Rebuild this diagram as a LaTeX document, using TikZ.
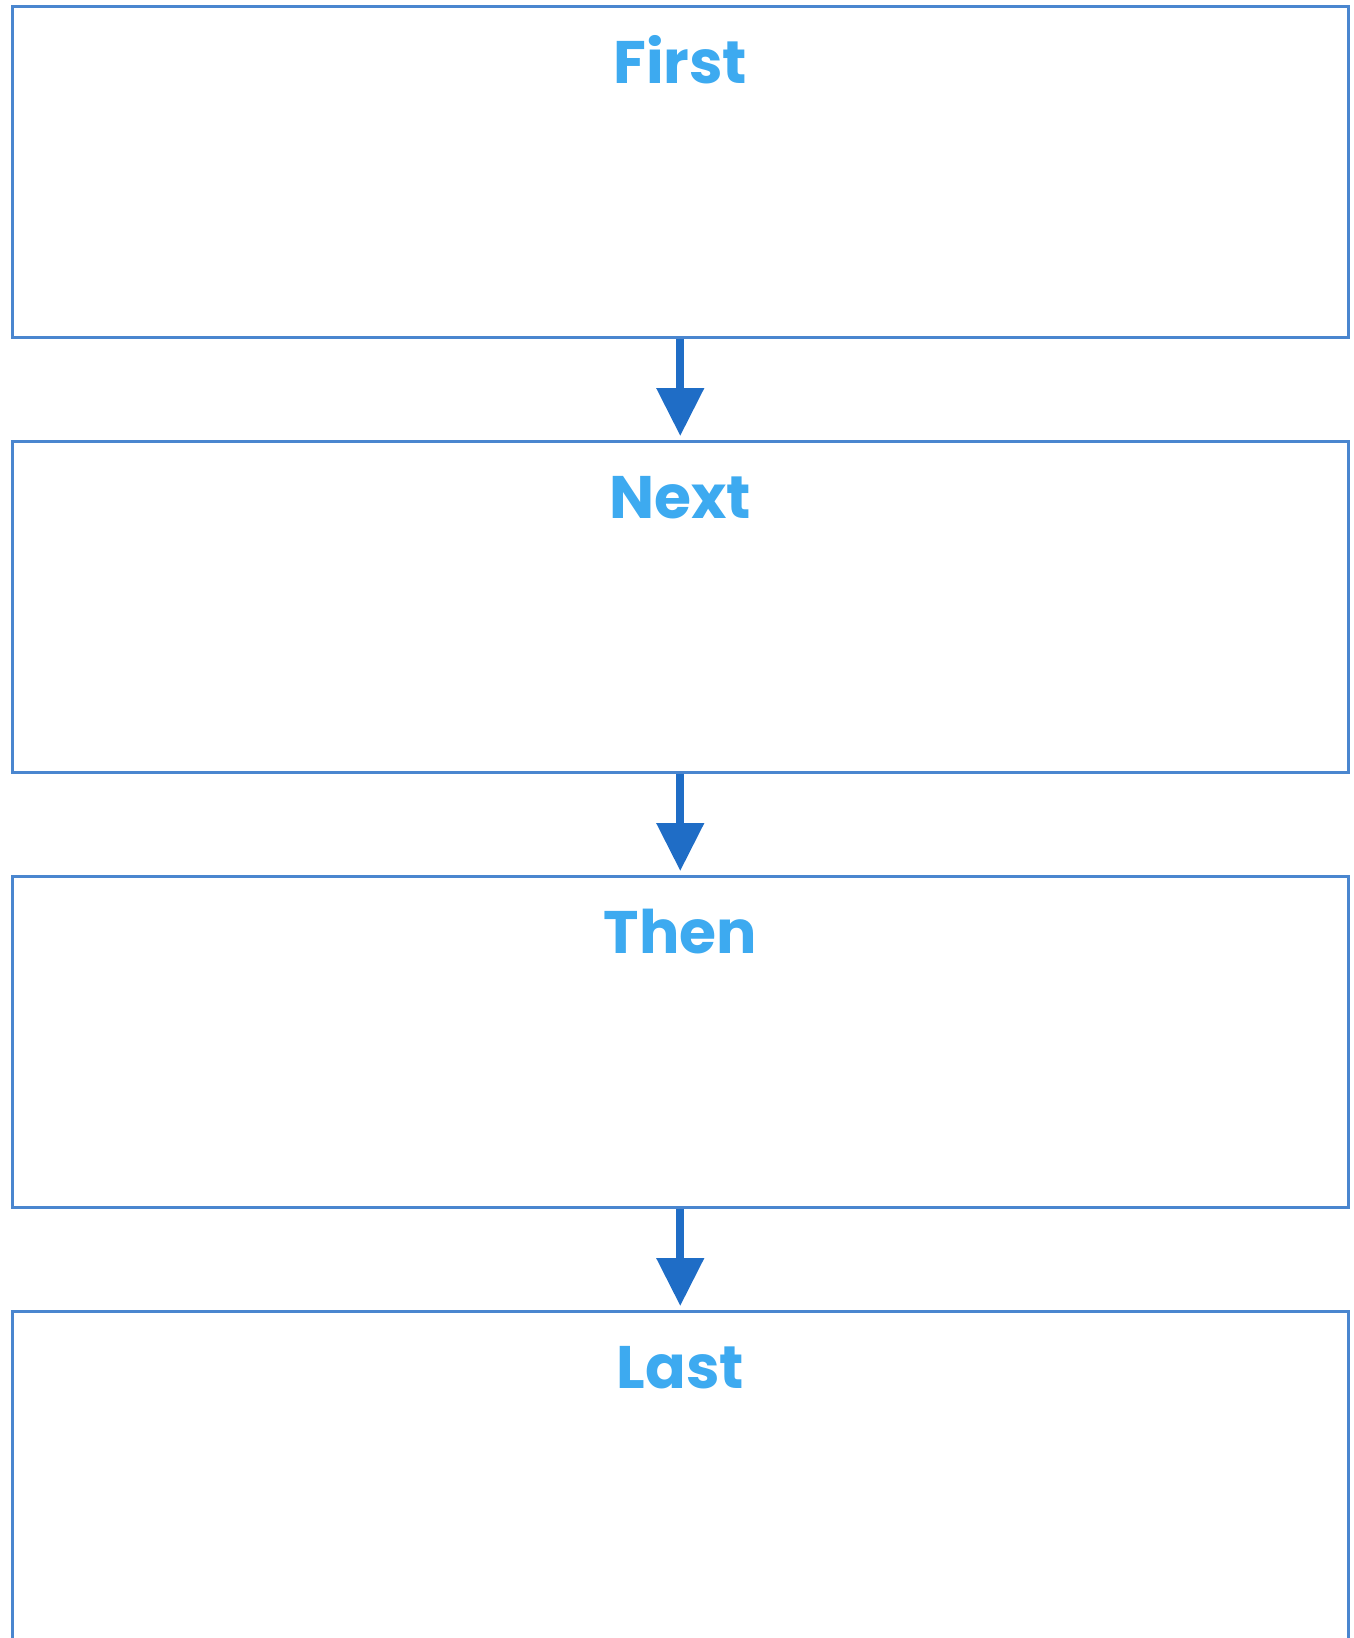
\documentclass[tikz,border=0pt]{standalone}
\usepackage{fontspec}
\setmainfont{Poppins}[BoldFont={Poppins Bold}]
\usetikzlibrary{arrows.meta}
\definecolor{boxblue}{HTML}{4A86CF}
\definecolor{lblblue}{HTML}{3DAAF0}
\definecolor{arrblue}{HTML}{1F6DC6}
\begin{document}
\begin{tikzpicture}[x=1pt,y=-1pt,
  stepbox/.style={draw=boxblue, line width=2.5pt, minimum width=1336pt, minimum height=331pt, inner sep=0pt, anchor=north west},
  lbl/.style={text=lblblue, font=\fontsize{60}{66}\selectfont\bfseries, anchor=base, inner sep=0pt},
  arr/.style={draw=arrblue, line width=8pt, -{Triangle[width=46pt,length=48pt]}, shorten >=4pt}]
\useasboundingbox (0,0) rectangle (1353,1638);
\node[stepbox] (b1) at (11,5) {};
\node[stepbox] (b2) at (11,440) {};
\node[stepbox] (b3) at (11,875) {};
\node[stepbox] (b4) at (11,1310) {};
\node[lbl] (t1) at ([yshift=-78pt]b1.north) {First};
\node[lbl] (t2) at ([yshift=-78pt]b2.north) {Next};
\node[lbl] (t3) at ([yshift=-78pt]b3.north) {Then};
\node[lbl] (t4) at ([yshift=-78pt]b4.north) {Last};
\draw[arr] (b1.south) -- (b2.north);
\draw[arr] (b2.south) -- (b3.north);
\draw[arr] (b3.south) -- (b4.north);
\end{tikzpicture}
\end{document}
